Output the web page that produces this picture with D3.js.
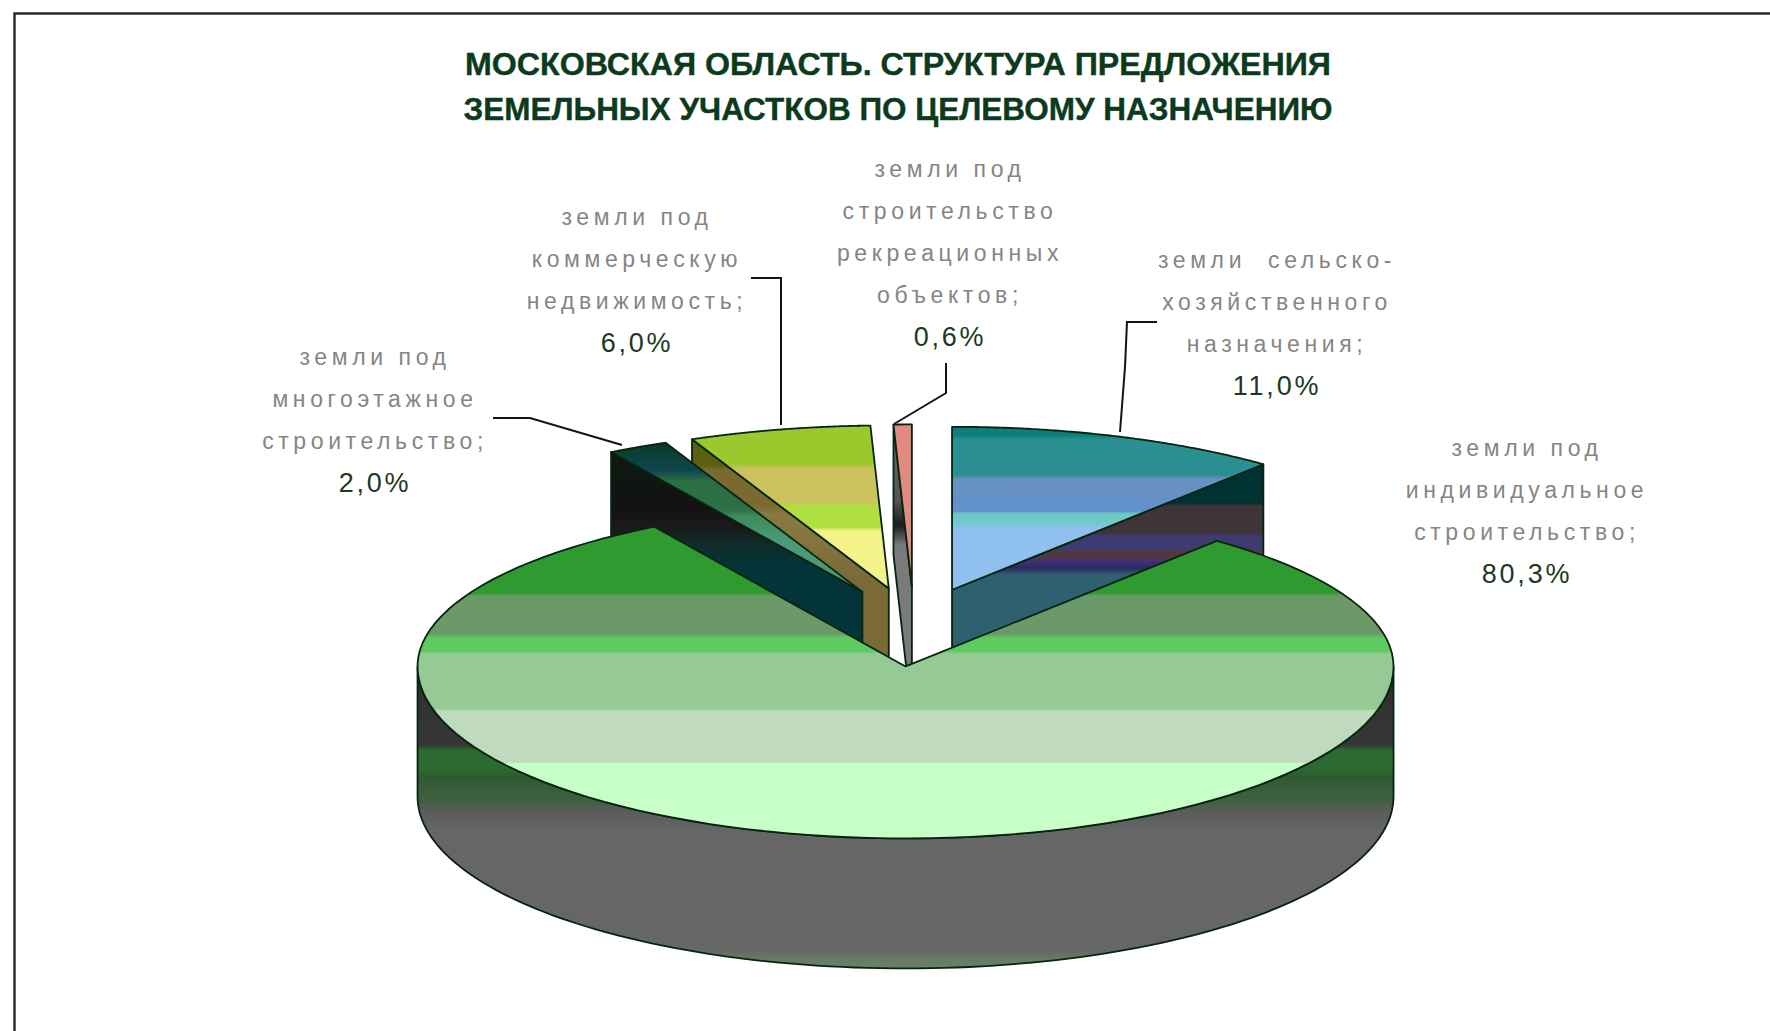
<!DOCTYPE html>
<html lang="ru">
<head>
<meta charset="utf-8">
<title>Московская область</title>
<script src="https://d3js.org/d3.v7.min.js"></script>
<style>
  html, body { margin: 0; padding: 0; background: #fff; }
  svg { display: block; }
</style>
</head>
<body>
<svg id="chart" width="1770" height="1031"></svg>
<script>
// Land offer by intended use, Moscow region, percent of plots
const categories = [
  "agriculture", "individual", "multistorey", "commercial", "recreation"
];
const shares = [11.0, 80.3, 2.0, 6.0, 0.6];
const shareLabels = ["11,0%", "80,3%", "2,0%", "6,0%", "0,6%"];
const categoryLines = [
  ["земли  сельско-", "хозяйственного", "назначения;"],
  ["земли под", "индивидуальное", "строительство;"],
  ["земли под", "многоэтажное", "строительство;"],
  ["земли под", "коммерческую", "недвижимость;"],
  ["земли под", "строительство", "рекреационных", "объектов;"]
];
const titleLines = [
  "МОСКОВСКАЯ ОБЛАСТЬ. СТРУКТУРА ПРЕДЛОЖЕНИЯ",
  "ЗЕМЕЛЬНЫХ УЧАСТКОВ ПО ЦЕЛЕВОМУ НАЗНАЧЕНИЮ"
];

// Label blocks: centre x and the baseline of the first line
const labelCentres = [1277, 1527, 375, 637, 950];
const labelTops = [268, 456, 365, 225, 177];
const lineStep = 42;

// Leader lines from the labels to the slices
const leaders = [
  [[1157, 322], [1127, 322], [1125, 367], [1120, 432]],
  null,
  [[493, 418], [530, 418], [622, 445]],
  [[751, 278], [781, 278], [781, 425]],
  [[946, 363], [946, 393], [894, 424]]
];

// Banded vertical fills, as [page y, colour]
const topBands = [
  [[424, "#0c7c76"], [436, "#0f7f7a"], [439, "#2a8f90"], [475, "#2a8f90"], [479, "#6a90c0"], [511, "#5f92cc"], [514, "#6bcac0"], [523, "#72c8cc"], [528, "#8fc0ee"], [590, "#8fc0ee"]],
  [[527, "#2f9a2f"], [593, "#2f9a2f"], [596, "#6b9a68"], [634, "#6b9a68"], [638, "#5ecb60"], [651, "#5ecb60"], [654, "#95ca95"], [709, "#95ca95"], [711, "#c0dabd"], [762, "#c0dabd"], [764, "#c8ffc8"], [840, "#c8ffc8"]],
  [[440, "#0a3a20"], [470, "#0f4550"], [481, "#2a6f40"], [510, "#2f7048"], [516, "#3e8a5a"], [540, "#4a9a78"], [595, "#4a9a78"]],
  [[418, "#9bc82d"], [464, "#9bc82d"], [468, "#cbc35e"], [503, "#cbc35e"], [506, "#b0e040"], [527, "#b0e040"], [531, "#f3f38a"], [590, "#f3f38a"]],
  [[415, "#e08a80"], [590, "#e08a80"]]
];
const sideBands = [
  [[460, "#003232"], [503, "#003232"], [506, "#3f3438"], [532, "#3f3438"], [536, "#3f3a70"], [548, "#3f3a70"], [552, "#4f3840"], [557, "#4f3840"], [561, "#45307a"], [568, "#2a2a60"], [575, "#2f6070"], [720, "#2f6070"]],
  [[666, "#2e2e2e"], [745, "#363636"], [750, "#2b6a30"], [770, "#2b6a30"], [776, "#2f5a30"], [800, "#3f5f3f"], [812, "#5c5c5c"], [830, "#666666"], [950, "#666666"], [958, "#667a62"], [970, "#66856a"]],
  [[445, "#0d1a10"], [505, "#121212"], [525, "#1a1818"], [545, "#102a2a"], [565, "#033538"], [725, "#033538"]],
  [[430, "#5a6010"], [465, "#5a6010"], [470, "#7a6a30"], [505, "#7a6a30"], [515, "#8a7a40"], [580, "#7a6a38"], [720, "#7a6a38"]],
  [[415, "#6a6a6a"], [500, "#555555"], [525, "#1c1c1c"], [545, "#7a7a7a"], [720, "#7a7a7a"]]
];

// Projection of the tilted disc; the far half of the rim is a little flatter
const pieCentre = { x: 914, y: 627 };
const radiusX = 488, radiusNear = 172, radiusFar = 163, depth = 130, explode = 0.23;

// Slices are painted from the back; the large one closes the scene
const paintOrder = [4, 3, 2, 0, 1];

const svg = d3.select("#chart");
const defs = svg.append("defs");

svg.append("path")
  .attr("d", "M14.5,1031V13.5H1770")
  .attr("fill", "none").attr("stroke", "#262626").attr("stroke-width", 2.4);

const sliceArcs = d3.pie().sort(null).startAngle(0).endAngle(2 * Math.PI)(shares);

// Screen offsets of a disc position, unit radius = outer rim
const xOf = d3.scaleLinear().domain([-1, 1]).range([-radiusX, radiusX]);
const yOf = d3.scaleLinear().domain([-1, 0, 1]).range([radiusNear, 0, -radiusFar]);
const yShift = d3.scaleLinear().domain([-1, 1]).range([radiusNear, -radiusNear]);
const apexOf = arc => {
  const mid = (arc.startAngle + arc.endAngle) / 2;
  return [pieCentre.x + xOf(explode * Math.sin(mid)), pieCentre.y + yShift(explode * Math.cos(mid))];
};
const onRim = (apex, angle) => [apex[0] + xOf(Math.sin(angle)), apex[1] + yOf(Math.cos(angle))];
const rimPoints = (apex, from, to) =>
  d3.range(0, 121).map(i => onRim(apex, from + (to - from) * i / 120));
const polygon = d3.line();

const addBands = (id, bands) => {
  const y0 = bands[0][0], y1 = bands[bands.length - 1][0];
  const offset = d3.scaleLinear().domain([y0, y1]).range([0, 1]);
  const grad = defs.append("linearGradient").attr("id", id)
    .attr("gradientUnits", "userSpaceOnUse")
    .attr("x1", 0).attr("x2", 0).attr("y1", y0).attr("y2", y1);
  grad.selectAll("stop").data(bands).join("stop")
    .attr("offset", d => offset(d[0]))
    .attr("stop-color", d => d[1]);
};

const outline = "#07240f";
const pies = svg.append("g").attr("stroke", outline).attr("stroke-width", 1.8).attr("stroke-linejoin", "round");

paintOrder.forEach(i => {
  const arc = sliceArcs[i], apex = apexOf(arc);
  addBands("top" + i, topBands[i]);
  addBands("side" + i, sideBands[i]);
  const down = p => [p[0], p[1] + depth];
  const wall = (a) => {
    const rim = onRim(apex, a);
    pies.append("path")
      .attr("d", polygon([apex, rim, down(rim), down(apex)]) + "Z")
      .attr("fill", `url(#side${i})`);
  };
  if (Math.sin(arc.startAngle) < 0) wall(arc.startAngle);
  if (Math.sin(arc.endAngle) > 0) wall(arc.endAngle);

  // Outer rim, only the part turned to the viewer
  const from = Math.max(arc.startAngle, Math.PI / 2);
  const to = Math.min(arc.endAngle, 3 * Math.PI / 2);
  if (to > from) {
    const rim = rimPoints(apex, from, to);
    pies.append("path")
      .attr("d", polygon(rim.concat(rim.slice().reverse().map(down))) + "Z")
      .attr("fill", `url(#side${i})`);
  }

  pies.append("path")
    .attr("d", polygon([apex].concat(rimPoints(apex, arc.startAngle, arc.endAngle))) + "Z")
    .attr("fill", `url(#top${i})`);
});

svg.append("g").selectAll("path").data(leaders.filter(Boolean)).join("path")
  .attr("d", d => polygon(d))
  .attr("fill", "none").attr("stroke", "#141414").attr("stroke-width", 2);

// Title
svg.append("g").selectAll("text").data(titleLines).join("text")
  .attr("x", 898).attr("y", (d, i) => 75 + i * 44.5)
  .attr("text-anchor", "middle")
  .attr("textLength", (d, i) => i ? 869 : 866)
  .attr("lengthAdjust", "spacingAndGlyphs")
  .attr("font-family", "Liberation Sans, Arial, sans-serif")
  .attr("font-weight", 700).attr("font-size", 32)
  .attr("fill", "#0c3a1c").attr("stroke", "#0c3a1c").attr("stroke-width", 0.4)
  .text(d => d);

// Slice labels: grey category lines and the dark value under them
categories.forEach((name, i) => {
  const g = svg.append("g").attr("class", name)
    .attr("font-family", "Liberation Sans, Arial, sans-serif")
    .attr("text-anchor", "middle");
  const lines = categoryLines[i];
  g.selectAll("text.cat").data(lines).join("text").attr("class", "cat")
    .attr("x", labelCentres[i]).attr("y", (d, k) => labelTops[i] + k * lineStep)
    .attr("font-size", 23).attr("letter-spacing", 4.6)
    .attr("fill", "#858585")
    .attr("xml:space", "preserve")
    .text(d => d);
  g.append("text")
    .attr("x", labelCentres[i]).attr("y", labelTops[i] + lines.length * lineStep + 1)
    .attr("font-size", 27).attr("letter-spacing", 2.8)
    .attr("fill", "#1c3a22")
    .text(shareLabels[i]);
});
</script>
</body>
</html>
